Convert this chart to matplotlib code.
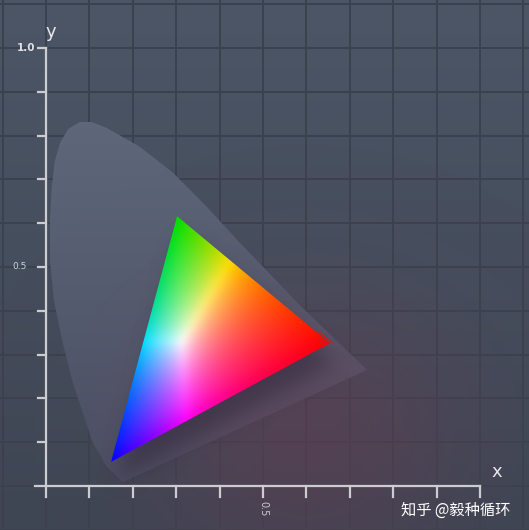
import numpy as np
import matplotlib
matplotlib.use("Agg")
import matplotlib.pyplot as plt
from matplotlib.patches import Polygon

# ---------------- data (chromaticity coordinates) -------------
locus_x = [0.177, 0.141, 0.108, 0.062, 0.037, 0.018, 0.009, 0.009, 0.013, 0.020, 0.032,
           0.051, 0.078, 0.106, 0.141, 0.217, 0.293, 0.371, 0.447, 0.585, 0.740]
locus_y = [0.009, 0.043, 0.098, 0.235, 0.333, 0.425, 0.516, 0.607, 0.680, 0.740, 0.783,
           0.815, 0.831, 0.831, 0.817, 0.774, 0.715, 0.637, 0.555, 0.413, 0.265]
primaries_x = [0.654, 0.302, 0.150]   # R, G, B
primaries_y = [0.326, 0.616, 0.055]
x_ticks = [0.0, 0.1, 0.2, 0.3, 0.4, 0.5, 0.6, 0.7, 0.8, 0.9, 1.0]
y_ticks = [0.1, 0.2, 0.3, 0.4, 0.5, 0.6, 0.7, 0.8, 0.9, 1.0]
x_labels = {0.5: "0.5"}
y_labels = {1.0: "1.0", 0.5: "0.5"}
grid_vals = [-0.1, 0.0, 0.1, 0.2, 0.3, 0.4, 0.5, 0.6, 0.7, 0.8, 0.9, 1.0, 1.1]
watermark = "知乎 @毅种循环"

plt.rcParams['font.family'] = ['DejaVu Sans', 'Noto Sans CJK SC']

W, H = 529, 530
fig = plt.figure(figsize=(W / 100, H / 100), dpi=100)
ax = fig.add_axes([0, 0, 1, 1])
x0, x1 = -0.106, 1.113
y0, y1 = -0.1005, 1.1096
ax.set_xlim(x0, x1)
ax.set_ylim(y0, y1)
ax.axis("off")

gx = np.linspace(x0, x1, W)
gy = np.linspace(y1, y0, H)
XX, YY = np.meshgrid(gx, gy)


def gblur(a, sigma, axes=(0, 1)):
    r = int(3 * sigma)
    k = np.exp(-0.5 * (np.arange(-r, r + 1) / sigma) ** 2)
    k /= k.sum()
    for axi in axes:
        a = np.apply_along_axis(lambda v: np.convolve(np.pad(v, r, mode="edge"), k, mode="valid"), axi, a)
    return a


# ---------------- background -----------------
base_top = np.array([76, 86, 102]) / 255
base_bot = np.array([62, 70, 84]) / 255
t = ((y1 - YY) / (y1 - y0))[..., None]
bg = base_top * (1 - t) + base_bot * t
ax.imshow(bg, extent=(x0, x1, y0, y1), origin="upper", zorder=0, aspect="auto")

for v in grid_vals:
    ax.axvline(v, color=(0.23, 0.26, 0.31), lw=1.4, zorder=1)
    ax.axhline(v, color=(0.23, 0.26, 0.31), lw=1.4, zorder=1)

# ---------------- horseshoe -----------------
locus = np.column_stack([locus_x, locus_y])
horse = Polygon(locus, closed=True, facecolor="none", edgecolor="none")
ax.add_patch(horse)
hs_top = np.array([94, 104, 122]) / 255
hs_bot = np.array([74, 80, 100]) / 255
tt = np.clip((0.85 - YY) / 0.85, 0, 1)[..., None]
hs_img = hs_top * (1 - tt) + hs_bot * tt
im = ax.imshow(hs_img, extent=(x0, x1, y0, y1), origin="upper", zorder=2, aspect="auto")
im.set_clip_path(horse)

# ---------------- reddish glow overlay -----------------
cx, cy = 0.60, 0.12
r2 = ((XX - cx) / 0.45) ** 2 + ((YY - cy) / 0.38) ** 2
ga = 0.36 * np.exp(-r2 * 1.5)
glow = np.zeros((H, W, 4))
glow[..., 0] = 118 / 255
glow[..., 1] = 55 / 255
glow[..., 2] = 78 / 255
glow[..., 3] = ga
ax.imshow(glow, extent=(x0, x1, y0, y1), origin="upper", zorder=3, aspect="auto")

# ---------------- triangle shadow -----------------
def in_tri(px, py, vx, vy):
    def s(ax_, ay_, bx, by):
        return (px - bx) * (ay_ - by) - (ax_ - bx) * (py - by)
    d1 = s(vx[0], vy[0], vx[1], vy[1])
    d2 = s(vx[1], vy[1], vx[2], vy[2])
    d3 = s(vx[2], vy[2], vx[0], vy[0])
    neg = (d1 < 0) | (d2 < 0) | (d3 < 0)
    pos = (d1 > 0) | (d2 > 0) | (d3 > 0)
    return ~(neg & pos)

sx = np.array(primaries_x) + 0.012
sy = np.array(primaries_y) - 0.045
mask = gblur(in_tri(XX, YY, sx, sy).astype(float), 10.0)
sh = np.zeros((H, W, 4))
sh[..., 0] = 45 / 255
sh[..., 1] = 35 / 255
sh[..., 2] = 55 / 255
sh[..., 3] = 0.5 * mask
ax.imshow(sh, extent=(x0, x1, y0, y1), origin="upper", zorder=4, aspect="auto")

# ---------------- gamut triangle (colorimetric fill) -----------------
N = 400
tx = np.linspace(min(primaries_x) - 0.01, max(primaries_x) + 0.01, N)
ty = np.linspace(max(primaries_y) + 0.01, min(primaries_y) - 0.01, N)
TX, TY = np.meshgrid(tx, ty)
TYc = np.maximum(TY, 1e-3)
Xc = TX / TYc
Yc = np.ones_like(TX)
Zc = (1 - TX - TY) / TYc
M = np.array([[3.2406, -1.5372, -0.4986],
              [-0.9689, 1.8758, 0.0415],
              [0.0557, -0.2040, 1.0570]])
rgb = np.einsum("ij,jhw->hwi", M, np.stack([Xc, Yc, Zc]))
rgb = np.clip(rgb, 0, None)
rgb = rgb / np.maximum(rgb.max(axis=2, keepdims=True), 1e-6)
rgb = rgb ** 0.8
mn = np.minimum(rgb[..., 0], rgb[..., 2])
rgb[..., 1] = rgb[..., 1] * (1 - 0.13 * (1 - mn))
rgb = np.clip(gblur(rgb, 6.0), 0, 1)
tri = Polygon(np.column_stack([primaries_x, primaries_y]), closed=True,
              facecolor="none", edgecolor="none")
ax.add_patch(tri)
ti = ax.imshow(rgb, extent=(tx[0], tx[-1], ty[-1], ty[0]), origin="upper",
               zorder=5, aspect="auto", interpolation="bilinear")
ti.set_clip_path(tri)

# small red streaks at the red corner
rx, ry = primaries_x[0], primaries_y[0]
dx, dy = (primaries_x[1] - rx), (primaries_y[1] - ry)
for offx, offy, ln in [(0.006, 0.0, 0.09), (-0.004, -0.004, 0.06), (-0.012, -0.006, 0.04)]:
    ax.plot([rx + offx, rx + offx + dx * ln], [ry + offy, ry + offy + dy * ln],
            color=(0.80, 0.12, 0.1), lw=1.0, zorder=6, solid_capstyle="round")

# ---------------- axes -----------------
ac = (0.80, 0.80, 0.82)
ax.plot([-0.025, 1.0], [0, 0], color=ac, lw=1.6, zorder=7)
ax.plot([0, 0], [0, 1.0], color=ac, lw=1.6, zorder=7)
for v in x_ticks:
    ax.plot([v, v], [0, -0.025], color=ac, lw=1.6, zorder=7)
for v in y_ticks:
    ax.plot([-0.019, 0], [v, v], color=ac, lw=1.6, zorder=7)
for v, s in x_labels.items():
    ax.text(v, -0.035, s, rotation=270, ha="center", va="top", fontsize=7,
            color=(0.80, 0.80, 0.82), zorder=8)
ax.text(-0.024, 1.0, y_labels[1.0], ha="right", va="center", fontsize=7.5,
        fontweight="bold", color=(0.88, 0.88, 0.90), zorder=8)
ax.text(-0.045, 0.5, y_labels[0.5], ha="right", va="center", fontsize=6.5,
        color=(0.82, 0.82, 0.85), zorder=8)
ax.text(0.01, 1.015, "y", ha="center", va="bottom", fontsize=13,
        color=(0.90, 0.90, 0.92), zorder=8)
ax.text(1.038, 0.012, "x", ha="center", va="bottom", fontsize=13,
        color=(0.90, 0.90, 0.92), zorder=8)
ax.text(1.07, -0.055, watermark, ha="right", va="center", fontsize=11,
        family=['Noto Sans CJK SC', 'DejaVu Sans'], color="white", zorder=9)

fig.savefig("out.png", dpi=100)
